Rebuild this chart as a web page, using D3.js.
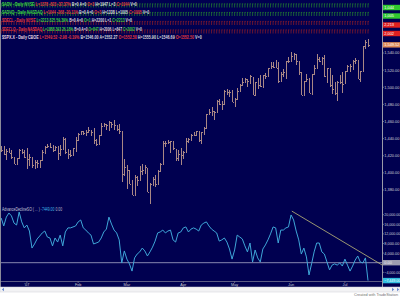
<!DOCTYPE html>
<html><head><meta charset="utf-8">
<script src="https://cdn.jsdelivr.net/npm/d3@7"></script>
<style>html,body{margin:0;padding:0;background:#fff;}svg{display:block;font-family:"Liberation Sans",Arial,sans-serif;}</style>
</head><body><svg id="c" width="400" height="297"></svg>
<script>
// ---------- DATA ----------
const dates = ["2006-12-15","2006-12-18","2006-12-19","2006-12-20","2006-12-21","2006-12-22","2006-12-26","2006-12-27","2006-12-28","2006-12-29",
"2007-01-03","2007-01-04","2007-01-05","2007-01-08","2007-01-09","2007-01-10","2007-01-11","2007-01-12","2007-01-16","2007-01-17","2007-01-18","2007-01-19","2007-01-22","2007-01-23","2007-01-24","2007-01-25","2007-01-26","2007-01-29","2007-01-30","2007-01-31",
"2007-02-01","2007-02-02","2007-02-05","2007-02-06","2007-02-07","2007-02-08","2007-02-09","2007-02-12","2007-02-13","2007-02-14","2007-02-15","2007-02-16","2007-02-20","2007-02-21","2007-02-22","2007-02-23","2007-02-26","2007-02-27","2007-02-28",
"2007-03-01","2007-03-02","2007-03-05","2007-03-06","2007-03-07","2007-03-08","2007-03-09","2007-03-12","2007-03-13","2007-03-14","2007-03-15","2007-03-16","2007-03-19","2007-03-20","2007-03-21","2007-03-22","2007-03-23","2007-03-26","2007-03-27","2007-03-28","2007-03-29","2007-03-30",
"2007-04-02","2007-04-03","2007-04-04","2007-04-05","2007-04-09","2007-04-10","2007-04-11","2007-04-12","2007-04-13","2007-04-16","2007-04-17","2007-04-18","2007-04-19","2007-04-20","2007-04-23","2007-04-24","2007-04-25","2007-04-26","2007-04-27","2007-04-30",
"2007-05-01","2007-05-02","2007-05-03","2007-05-04","2007-05-07","2007-05-08","2007-05-09","2007-05-10","2007-05-11","2007-05-14","2007-05-15","2007-05-16","2007-05-17","2007-05-18","2007-05-21","2007-05-22","2007-05-23","2007-05-24","2007-05-25","2007-05-29","2007-05-30","2007-05-31",
"2007-06-01","2007-06-04","2007-06-05","2007-06-06","2007-06-07","2007-06-08","2007-06-11","2007-06-12","2007-06-13","2007-06-14","2007-06-15","2007-06-18","2007-06-19","2007-06-20","2007-06-21","2007-06-22","2007-06-25","2007-06-26","2007-06-27","2007-06-28","2007-06-29",
"2007-07-02","2007-07-03","2007-07-05","2007-07-06","2007-07-09","2007-07-10","2007-07-11","2007-07-12","2007-07-13","2007-07-16"];

const spxOpen = [1425.5,1427.1,1422.5,1425.6,1423.5,1418.3,1410.8,1416.9,1426.8,1424.7,
1418.0,1416.6,1418.3,1409.3,1412.8,1408.7,1414.8,1423.8,1430.7,1431.8,1430.6,1426.4,1430.5,1423.0,1428.0,1440.1,1423.9,1422.0,1420.6,1428.7,
1437.9,1445.9,1448.3,1447.0,1448.0,1450.0,1448.3,1438.0,1433.2,1443.9,1455.2,1456.8,1455.5,1459.6,1457.3,1456.2,1451.0,1449.3,1398.6,
1406.8,1403.2,1387.1,1374.1,1395.0,1391.9,1401.9,1402.8,1406.2,1377.9,1387.1,1392.3,1387.0,1402.0,1410.9,1435.0,1434.5,1436.1,1437.5,1428.4,1417.2,1422.5,
1420.8,1424.3,1437.8,1438.9,1443.8,1444.6,1448.2,1438.9,1447.8,1452.8,1468.5,1471.5,1472.5,1470.7,1484.3,1480.9,1480.3,1495.3,1494.2,1494.1,
1482.4,1486.1,1495.6,1502.3,1505.6,1509.4,1507.3,1512.3,1491.5,1505.8,1503.1,1500.8,1514.0,1512.7,1522.8,1525.1,1524.1,1522.1,1507.5,1515.6,1517.6,1530.2,
1530.6,1536.3,1539.1,1530.6,1517.4,1490.7,1507.6,1509.1,1492.7,1515.6,1523.0,1532.9,1531.0,1533.7,1512.5,1522.2,1502.6,1497.7,1492.6,1506.3,1505.7,
1504.7,1519.1,1524.9,1525.0,1530.4,1531.9,1509.9,1518.7,1547.7,1552.5];
const spxHigh = [1431.6,1431.8,1428.3,1429.1,1426.4,1418.8,1417.9,1427.7,1427.3,1427.0,
1429.4,1421.8,1418.3,1415.0,1415.6,1415.0,1427.1,1431.2,1433.9,1435.3,1433.0,1431.6,1431.4,1432.9,1441.6,1440.7,1427.3,1426.9,1428.8,1441.6,
1446.6,1449.3,1449.4,1450.2,1453.0,1450.5,1452.5,1439.1,1444.4,1457.7,1458.0,1456.8,1460.5,1459.6,1461.6,1456.2,1457.0,1449.3,1415.9,
1409.5,1403.4,1391.9,1397.9,1396.1,1407.9,1410.2,1409.3,1406.2,1388.1,1395.7,1397.5,1403.2,1411.5,1437.8,1437.7,1438.9,1437.7,1437.5,1428.4,1426.2,1429.2,
1425.5,1440.6,1440.2,1444.9,1448.1,1448.7,1448.4,1448.0,1453.1,1468.6,1474.4,1476.6,1472.5,1484.7,1486.3,1483.8,1496.6,1498.0,1497.3,1497.2,
1487.3,1499.1,1503.3,1510.3,1511.0,1509.4,1513.8,1512.3,1506.2,1510.9,1514.8,1514.2,1517.1,1522.8,1529.9,1529.2,1532.4,1529.3,1517.4,1521.8,1530.2,1535.6,
1540.6,1540.5,1539.1,1530.6,1517.4,1507.8,1515.5,1511.3,1515.7,1526.5,1538.7,1535.4,1535.9,1537.3,1522.9,1522.2,1514.3,1506.1,1506.8,1514.8,1517.5,
1519.5,1526.0,1526.6,1532.4,1534.3,1531.9,1519.3,1547.9,1555.1,1555.9];
const spxLow = [1425.5,1420.7,1414.9,1423.5,1415.9,1410.3,1410.5,1416.9,1422.3,1416.8,
1404.0,1408.4,1405.8,1404.0,1405.4,1405.4,1414.8,1422.1,1428.6,1428.6,1424.2,1425.7,1414.9,1419.9,1428.0,1422.3,1416.0,1418.5,1420.6,1424.8,
1437.9,1444.5,1443.8,1443.4,1446.4,1442.8,1433.4,1431.4,1433.2,1443.9,1453.2,1450.5,1449.2,1452.0,1450.5,1448.4,1445.5,1389.4,1396.6,
1380.9,1386.9,1374.0,1374.1,1385.2,1391.9,1397.3,1398.4,1377.7,1364.0,1385.2,1383.6,1387.0,1400.7,1409.8,1429.9,1433.2,1423.3,1426.5,1414.1,1413.3,1408.9,
1416.4,1424.3,1435.1,1436.7,1443.3,1443.0,1436.2,1433.9,1444.6,1452.8,1467.2,1466.4,1462.3,1470.7,1479.5,1473.7,1480.3,1491.5,1488.7,1482.3,
1476.7,1486.1,1495.6,1501.8,1505.5,1500.7,1503.8,1491.4,1491.5,1498.3,1500.4,1500.8,1509.3,1512.7,1522.7,1522.4,1521.9,1505.2,1507.5,1512.0,1510.1,1528.3,
1530.6,1532.2,1525.6,1514.1,1490.4,1490.7,1506.0,1493.0,1492.7,1515.6,1523.0,1529.3,1525.7,1512.4,1504.8,1500.7,1492.7,1490.5,1484.2,1503.4,1493.6,
1504.7,1519.1,1517.7,1520.5,1527.5,1510.0,1506.1,1518.7,1544.9,1546.7];
const spxClose = [1427.1,1422.5,1425.6,1423.5,1418.3,1410.8,1416.9,1426.8,1424.7,1418.3,
1416.6,1418.3,1409.7,1412.8,1412.1,1414.9,1423.8,1430.7,1431.9,1430.6,1426.4,1430.5,1423.0,1428.0,1440.1,1423.9,1422.2,1420.6,1428.8,1438.2,
1445.9,1448.4,1447.0,1448.0,1450.0,1448.3,1438.1,1433.4,1444.3,1455.3,1456.8,1455.5,1459.7,1457.6,1456.4,1451.2,1449.4,1399.0,1406.8,
1403.2,1387.2,1374.1,1395.4,1392.0,1401.9,1402.8,1406.6,1378.0,1387.2,1392.3,1387.0,1402.1,1410.9,1435.0,1434.5,1436.1,1437.5,1428.6,1417.2,1422.5,1420.9,
1424.6,1437.8,1439.4,1443.8,1444.6,1448.4,1438.9,1447.8,1452.9,1468.5,1471.5,1472.5,1470.7,1484.4,1480.9,1480.4,1495.4,1494.3,1494.1,1482.4,
1486.3,1495.9,1502.4,1505.6,1509.5,1507.7,1512.6,1491.5,1505.9,1503.2,1501.2,1514.1,1512.8,1522.8,1525.1,1524.1,1522.3,1507.5,1515.7,1518.1,1530.2,1530.6,
1536.3,1539.2,1531.0,1517.4,1490.7,1507.7,1509.1,1493.0,1515.7,1523.0,1532.9,1531.1,1533.7,1512.8,1522.2,1502.6,1497.7,1492.9,1506.3,1505.7,1503.4,
1519.4,1524.9,1525.4,1530.4,1531.9,1510.1,1518.8,1547.7,1552.5,1549.52];

const adOsc = [18600,15300,19000,20700,19500,16500,15700,21100,17000,14500,
15700,13200,6100,7800,9900,11100,12400,13200,10700,10300,7000,10300,8600,11500,7000,12800,14500,14500,14900,15300,
17000,17800,14500,13600,12400,11500,7800,8200,8600,10300,12800,14000,19000,16100,13600,12400,9500,-100,4900,
1500,-500,-3500,2000,3600,4500,6100,4900,2800,4500,6500,9000,12400,12800,13600,12400,13200,13600,9500,8600,12400,12800,
14500,14900,12800,14000,14500,14000,13200,15700,16500,17000,15300,14000,13200,12400,9000,9500,10300,8600,5700,1500,
5300,11500,10700,9900,7000,4500,8200,300,5300,2000,300,5700,7400,9500,12000,14900,14500,8200,13600,13600,14500,14900,
19900,17800,13200,9500,3600,6100,2400,-5100,-500,4500,8200,8200,4500,3600,300,-3000,-1000,-500,-1000,-100,-1400,
1500,-1000,-3500,-1400,1100,2800,300,-100,2000,-7449];

const trendIdx = [113.3, 148.5];
const trendVal = [21500, -960];

const priceTicks = [1540,1520,1500,1480,1460,1440,1420,1400,1380];
const oscTicks = [20000,16000,12000,8000,4000,-4000];
const monthNames = ["'07","Feb","Mar","Apr","May","Jun","Jul"];

const headerRows = [
 [["$ADV - Daily NYSE ","#3fd23f"],["L=1378 -823 -37.37% ","#e23a3a"],["B=0 A=0 ","#dcdcdc"],["O=3 ","#e23a3a"],["H=1947 L=3 ","#dcdcdc"],["C=1044 ","#e23a3a"],["V=0","#dcdcdc"]],
 [["$ADVQ - Daily NASDAQ ","#3fd23f"],["L=1044 -268 -20.11% ","#e23a3a"],["B=0 A=0 ","#dcdcdc"],["O=3 ","#e23a3a"],["H=1338 L=1005 ","#dcdcdc"],["C=1005 ","#e23a3a"],["V=0","#dcdcdc"]],
 [["$DECL - Daily NYSE ","#e23a3a"],["L=2213 825 59.39% ","#3fd23f"],["B=0 A=0 ","#dcdcdc"],["O=1 ","#3fd23f"],["H=2200 L=1 ","#dcdcdc"],["C=2213 ","#3fd23f"],["V=0","#dcdcdc"]],
 [["$DECLQ - Daily NASDAQ ","#e23a3a"],["L=1888 393 26.18% ","#3fd23f"],["B=0 A=0 ","#dcdcdc"],["O=847 ","#3fd23f"],["H=2006 L=847 ","#dcdcdc"],["C=2002 ","#3fd23f"],["V=0","#dcdcdc"]],
 [["$SPX.X - Daily CBOE ","#e8d8e0"],["L=1549.52 -2.98 -0.19% ","#e23a3a"],["B=1546.00 A=1552.27 ","#dcdcdc"],["O=1552.50 ","#e23a3a"],["H=1555.90 L=1546.69 ","#dcdcdc"],["O=1552.50 ","#e23a3a"],["V=0","#dcdcdc"]]
];
const headerWidths = [135,147,130,140,200];
const rightBoxes = [["1,044","#2fc82f"],["1,005","#2fc82f"],["2,213","#e02020"],["2,002","#e02020"]];

// ---------- DRAW ----------
const W = 400, H = 297, axisX = 382;
const svg = d3.select("#c");
const navy = "#000050";
svg.append("rect").attr("x",0).attr("y",0).attr("width",W).attr("height",287).attr("fill",navy);

const x = d3.scaleLinear().domain([0, dates.length - 1]).range([1.2, 368]);
const y = d3.scaleLinear().domain([1380, 1540]).range([190, 53]);
const yo = d3.scaleLinear().domain([-4000, 20000]).range([272.3, 214.7]);

// left border
svg.append("line").attr("x1",0.5).attr("x2",0.5).attr("y1",0).attr("y2",287).attr("stroke","#8a8a9a").attr("stroke-width",1);

// mini series glyph rows (header data series)
const glyphRows = [[5.5,"#2a9c2a"],[14,"#2a9c2a"],[23,"#a82222"],[31.5,"#a82222"]];
glyphRows.forEach(([cy,col]) => {
  const g = svg.append("g").attr("stroke",col).attr("stroke-width",0.6).attr("fill","none");
  dates.forEach((d,i) => {
    const px = x(i);
    g.append("path").attr("d",`M${px},${cy-2}V${cy+2}M${px},${cy-1.6}H${px+0.9}`);
  });
});

// header text rows (horizontally fitted to the reference widths)
const headerY = [5.6,13.6,22.1,30.6,39.2];
headerRows.forEach((row,ri) => {
  const t = svg.append("text").attr("x",0).attr("y",0).attr("font-size",5.4).attr("font-weight","bold");
  row.forEach(([s,c]) => t.append("tspan").attr("fill",c).text(s));
  const w = t.node().getComputedTextLength();
  t.attr("transform",`translate(2,${headerY[ri]}) scale(${headerWidths[ri]/w},1)`);
});

// price bars
const bars = svg.append("g").attr("stroke","#a98785").attr("stroke-width",1).attr("shape-rendering","crispEdges");
dates.forEach((d,i) => {
  const px = Math.round(x(i)) + 0.5;
  bars.append("line").attr("x1",px).attr("x2",px).attr("y1",y(spxHigh[i])).attr("y2",y(spxLow[i]));
  bars.append("line").attr("x1",px-1).attr("x2",px).attr("y1",Math.round(y(spxOpen[i]))+0.5).attr("y2",Math.round(y(spxOpen[i]))+0.5);
  bars.append("line").attr("x1",px).attr("x2",px+1).attr("y1",Math.round(y(spxClose[i]))+0.5).attr("y2",Math.round(y(spxClose[i]))+0.5);
});

// indicator title
const it = svg.append("text").attr("x",0).attr("y",0).attr("font-size",5.2);
it.append("tspan").attr("fill","#c8c8d8").text("AdvanceDeclineSO ( ... ) ");
it.append("tspan").attr("fill","#3fb8e8").text("-7449.00 ");
it.append("tspan").attr("fill","#b8b8c8").text("0.00");
{ const w = it.node().getComputedTextLength(); it.attr("transform",`translate(2,210.8) scale(${60/w},1)`); }

// zero line
svg.append("line").attr("x1",1).attr("x2",axisX).attr("y1",yo(0)).attr("y2",yo(0)).attr("stroke","#a8a8c8").attr("stroke-width",0.8);

// indicator line
svg.append("path").datum(adOsc)
  .attr("d", d3.line().x((d,i)=>x(i)).y(d=>yo(d)))
  .attr("fill","none").attr("stroke","#3fa6d8").attr("stroke-width",1);

// trend line
svg.append("line").attr("x1",x(trendIdx[0])).attr("y1",yo(trendVal[0])).attr("x2",x(trendIdx[1])).attr("y2",yo(trendVal[1]))
  .attr("stroke","#c0bb78").attr("stroke-width",0.8);

// right axis
svg.append("line").attr("x1",axisX+0.5).attr("x2",axisX+0.5).attr("y1",0).attr("y2",287).attr("stroke","#9a9aa8").attr("stroke-width",1);
const fsAx = 3.9, maxLab = 16;
function axLabel(yy, txt, col){
  const t = svg.append("text").attr("x",0).attr("y",0).attr("font-size",fsAx).attr("fill",col).text(txt);
  const w = t.node().getComputedTextLength();
  const s = Math.min(1, maxLab / w);
  t.attr("transform",`translate(${axisX+2.3},${yy+1.4}) scale(${s},1)`);
}
priceTicks.forEach(v => {
  svg.append("line").attr("x1",axisX).attr("x2",axisX+2).attr("y1",y(v)).attr("y2",y(v)).attr("stroke","#9a9aa8").attr("stroke-width",0.6);
  axLabel(y(v), d3.format(",.2f")(v), "#d0d0d8");
});
oscTicks.forEach(v => {
  svg.append("line").attr("x1",axisX).attr("x2",axisX+2).attr("y1",yo(v)).attr("y2",yo(v)).attr("stroke","#9a9aa8").attr("stroke-width",0.6);
  axLabel(yo(v), d3.format(",.2f")(v), "#d0d0d8");
});
function box(cy, fill, txt, tcol){
  svg.append("rect").attr("x",axisX+1).attr("y",cy-2.7).attr("width",W-axisX-1).attr("height",5.4).attr("fill",fill);
  axLabel(cy, txt, tcol);
}
rightBoxes.forEach(([t,c],i) => box(glyphRows[i][0]+2, c, t, "#ffffff"));
box(y(spxClose[spxClose.length-1]), "#de8a58", d3.format(",.2f")(spxClose[spxClose.length-1]), "#ffffff");
box(yo(0), "#9c9cb0", "0.00", "#e8e8f0");
box(yo(adOsc[adOsc.length-1]), "#32bfe0", d3.format(",.2f")(adOsc[adOsc.length-1]), "#ffffff");

// time axis
const axY = 281.5;
svg.append("line").attr("x1",0).attr("x2",axisX).attr("y1",axY).attr("y2",axY).attr("stroke","#9a9aa8").attr("stroke-width",0.6);
let mi = 0;
dates.forEach((d,i) => {
  if (i > 0 && d.slice(5,7) !== dates[i-1].slice(5,7)) {
    svg.append("line").attr("x1",x(i)).attr("x2",x(i)).attr("y1",axY).attr("y2",axY+1.5).attr("stroke","#9a9aa8").attr("stroke-width",0.6);
    svg.append("text").attr("x",x(i)).attr("y",285.8).attr("text-anchor","middle").attr("font-size",3.8).attr("fill","#c8c8d0").text(monthNames[mi]);
    mi++;
  }
});

// scrollbar + footer
svg.append("rect").attr("x",0).attr("y",287).attr("width",W).attr("height",5).attr("fill","#f2f2f4").attr("stroke","#d0d0d8").attr("stroke-width",0.5);
svg.append("path").attr("d","M4,287.8L1.8,289.5L4,291.2Z").attr("fill","#6a8ad0");
svg.append("path").attr("d","M392,287.8L394.2,289.5L392,291.2Z").attr("fill","#6a8ad0");
svg.append("path").attr("d","M397,287.8L399.2,289.5L397,291.2Z").attr("fill","#6a8ad0");
svg.append("text").attr("x",398).attr("y",296.3).attr("text-anchor","end").attr("font-size",3.8).attr("fill","#707070").text("Created with TradeStation");
</script></body></html>
